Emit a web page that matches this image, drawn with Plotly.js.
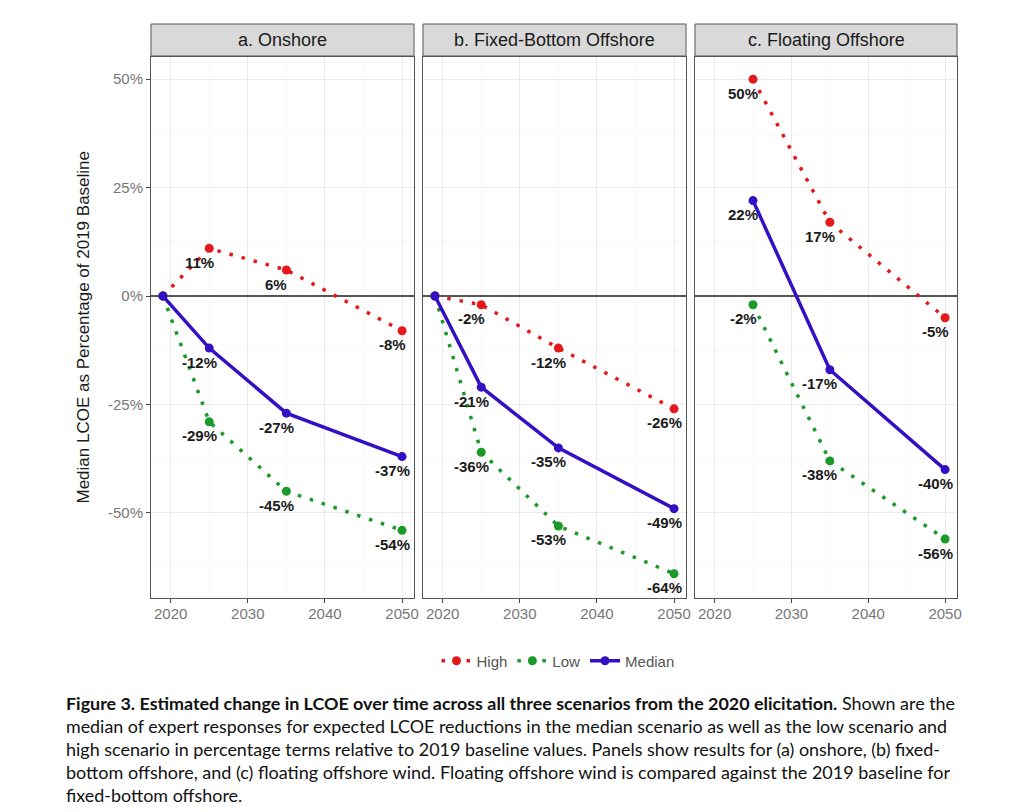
<!DOCTYPE html>
<html><head><meta charset="utf-8">
<script src="https://cdn.plot.ly/plotly-3.0.1.min.js"></script>
<style>
body{margin:0;background:#fff;}
#chart{width:1024px;height:812px;position:absolute;left:0;top:0;}
.cl{position:absolute;left:66px;white-space:nowrap;transform-origin:0 0;font-family:Lato,"Open Sans",sans-serif;font-size:17px;color:#111;line-height:20px;}
.cl b{font-weight:700;}
</style></head><body>
<div id="chart"></div>
<div id="caption"></div>
<script>
// ---- data ----
const years = [2019, 2025, 2035, 2050];
const floatYears = [2025, 2035, 2050];
const onshoreHigh = [0, 11, 6, -8];
const onshoreLow = [0, -29, -45, -54];
const onshoreMedian = [0, -12, -27, -37];
const fixedHigh = [0, -2, -12, -26];
const fixedLow = [0, -36, -53, -64];
const fixedMedian = [0, -21, -35, -49];
const floatHigh = [50, 17, -5];
const floatLow = [-2, -38, -56];
const floatMedian = [22, -17, -40];
const panelTitles = ['a. Onshore', 'b. Fixed-Bottom Offshore', 'c. Floating Offshore'];
const seriesNames = ['High', 'Low', 'Median'];
const yTickVals = [-50, -25, 0, 25, 50];
const yTickText = ['-50%', '-25%', '0%', '25%', '50%'];
const xTickVals = [2020, 2030, 2040, 2050];
const xTickText = ['2020', '2030', '2040', '2050'];
const baselineYear = 2019;
const yTitle = 'Median LCOE as Percentage of 2019 Baseline';
const captionBold = 'Figure 3. Estimated change in LCOE over time across all three scenarios from the 2020 elicitation.';
const captionLines = [
  ' Shown are the',
  'median of expert responses for expected LCOE reductions in the median scenario as well as the low scenario and',
  'high scenario in percentage terms relative to 2019 baseline values. Panels show results for (a) onshore, (b) fixed-',
  'bottom offshore, and (c) floating offshore wind. Floating offshore wind is compared against the 2019 baseline for',
  'fixed-bottom offshore.'
];

// ---- layout constants ----
const W = 1024, H = 812;
const FONT = 'Arial, Liberation Sans, sans-serif';
const panelPx = [[151, 414], [423, 686], [695, 957]];
const plotTop = 57, plotBottom = 598, stripTop = 24, stripBottom = 56;
const px = v => v / W, py = v => 1 - v / H;
const colors = ['#e3191c', '#1b9a2a', '#3410c4'];
const dashes = ['3.5px,9px', '3.5px,9px', 'solid'];
const widths = [3.5, 3.5, 3.5];

const panels = [
  {x: years, series: [onshoreHigh, onshoreLow, onshoreMedian]},
  {x: years, series: [fixedHigh, fixedLow, fixedMedian]},
  {x: floatYears, series: [floatHigh, floatLow, floatMedian]}
];

const traces = [];
const annotations = [];
const shapes = [];
const layout = {
  width: W, height: H,
  margin: {l: 0, r: 0, t: 0, b: 0},
  paper_bgcolor: '#fff', plot_bgcolor: '#fff',
  font: {family: FONT, color: '#333'},
  showlegend: true,
  legend: {orientation: 'h', x: px(558), xanchor: 'center', y: py(661), yanchor: 'middle',
           font: {size: 15, color: '#555', family: FONT}, itemwidth: 30, bgcolor: 'rgba(0,0,0,0)', traceorder: 'normal'},
  annotations: annotations, shapes: shapes
};

panels.forEach((p, i) => {
  const xa = i === 0 ? 'x' : 'x' + (i + 1);
  const ya = i === 0 ? 'y' : 'y' + (i + 1);
  const xKey = i === 0 ? 'xaxis' : 'xaxis' + (i + 1);
  const yKey = i === 0 ? 'yaxis' : 'yaxis' + (i + 1);
  layout[xKey] = {
    domain: [px(panelPx[i][0]), px(panelPx[i][1])], anchor: ya,
    range: [2017.45, 2051.55], tickvals: xTickVals, ticktext: xTickText,
    ticks: 'outside', ticklen: 4, tickcolor: '#444', tickfont: {size: 15, color: '#777', family: FONT},
    ticklabelstandoff: -2,
    showgrid: true, gridcolor: '#ebebeb', gridwidth: 1,
    minor: {dtick: 5, tick0: 2020, showgrid: true, gridcolor: '#f5f5f5', gridwidth: 0.6, ticks: ''},
    showline: true, mirror: true, linecolor: '#555', linewidth: 1, zeroline: false, fixedrange: true
  };
  layout[yKey] = {
    domain: [py(plotBottom), py(plotTop)], anchor: xa,
    range: [-69.6, 55.1], tickvals: yTickVals, ticktext: yTickText,
    ticks: i === 0 ? 'outside' : '', ticklen: 4, tickcolor: '#444',
    showticklabels: i === 0, tickfont: {size: 15, color: '#777', family: FONT},
    showgrid: true, gridcolor: '#ebebeb', gridwidth: 1,
    minor: {dtick: 12.5, tick0: 0, showgrid: true, gridcolor: '#f5f5f5', gridwidth: 0.6, ticks: ''},
    zeroline: true, zerolinecolor: '#555', zerolinewidth: 1.2,
    showline: true, mirror: true, linecolor: '#555', linewidth: 1, fixedrange: true
  };
  p.series.forEach((vals, s) => {
    traces.push({
      type: 'scatter', mode: 'lines+markers', x: p.x, y: vals, xaxis: xa, yaxis: ya,
      name: seriesNames[s], legendgroup: seriesNames[s], showlegend: i === 0,
      line: {color: colors[s], width: widths[s], dash: dashes[s]},
      marker: {color: colors[s], size: 9}, hoverinfo: 'skip'
    });
    vals.forEach((v, k) => {
      if (p.x[k] === baselineYear) return;
      annotations.push({
        xref: xa, yref: ya, x: p.x[k], y: v, text: '<b>' + v + '%</b>', showarrow: false,
        xanchor: 'center', yanchor: 'middle', xshift: -10, yshift: -14,
        font: {size: 15, color: '#1a1a1a', family: FONT}
      });
    });
  });
  shapes.push({type: 'rect', xref: 'paper', yref: 'paper',
    x0: px(panelPx[i][0]), x1: px(panelPx[i][1]), y0: py(stripBottom), y1: py(stripTop),
    fillcolor: '#d9d9d9', line: {color: '#555', width: 1}, layer: 'above'});
  annotations.push({xref: 'paper', yref: 'paper', x: px((panelPx[i][0] + panelPx[i][1]) / 2),
    y: py((stripTop + stripBottom) / 2), text: panelTitles[i], showarrow: false,
    xanchor: 'center', yanchor: 'middle', font: {size: 18, color: '#1a1a1a', family: FONT}});
});

annotations.push({xref: 'paper', yref: 'paper', x: px(83), y: py((plotTop + plotBottom) / 2),
  text: yTitle, textangle: -90, showarrow: false, xanchor: 'center', yanchor: 'middle',
  font: {size: 17, color: '#1a1a1a', family: FONT}});

Plotly.newPlot('chart', traces, layout, {displayModeBar: false, staticPlot: true});

// ---- caption ----
const cap = document.getElementById('caption');
const lineCenters = [705, 728, 751, 774, 797];
const lineRights = [955, 947, 940, 950, null];
const lines = [];
captionLines.forEach((t, i) => {
  const d = document.createElement('div');
  d.className = 'cl';
  if (i === 0) {
    const b = document.createElement('b'); b.textContent = captionBold; d.appendChild(b);
    d.appendChild(document.createTextNode(t));
  } else d.textContent = t;
  d.style.top = (lineCenters[i] - 11) + 'px';
  cap.appendChild(d);
  lines.push(d);
});
function fit() {
  let scales = [];
  lines.forEach((d, i) => {
    if (lineRights[i] === null) return;
    d.style.transform = 'none';
    const w = d.getBoundingClientRect().width;
    const s = (lineRights[i] - 66) / w; scales.push(s);
    d.style.transform = 'scaleX(' + s + ')';
  });
  const avg = scales.reduce((a, b) => a + b, 0) / scales.length;
  lines[4].style.transform = 'scaleX(' + avg + ')';
}
fit();
if (document.fonts && document.fonts.ready) document.fonts.ready.then(fit);
</script>
</body></html>
